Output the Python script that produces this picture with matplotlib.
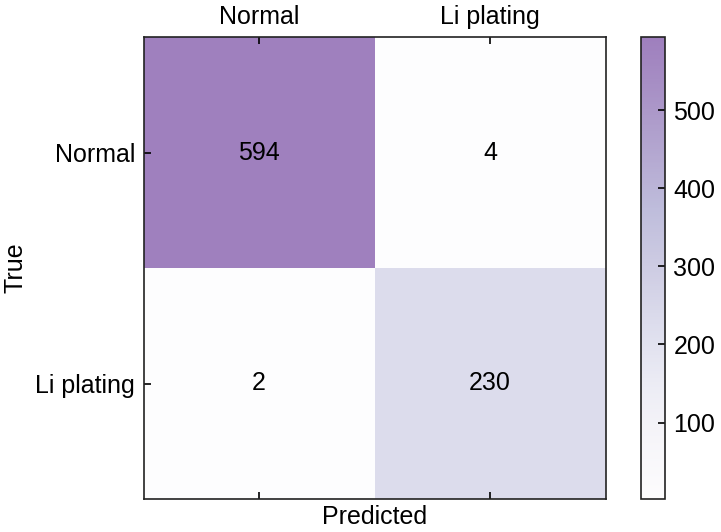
import numpy as np
import matplotlib
matplotlib.use("Agg")
import matplotlib.pyplot as plt

plt.rcParams['font.family'] = ['Liberation Sans', 'DejaVu Sans']
plt.rcParams['font.size'] = 18

classes = ["Normal", "Li plating"]
cm = np.array([[594, 4],
               [2, 230]])

W, H = 721, 532
fig = plt.figure(figsize=(W/100, H/100), dpi=100)
ax = fig.add_axes([143.5/W, (H-499)/H, 462/W, 462/H])
cax = fig.add_axes([641/W, (H-499)/H, 24/W, 462/H])

im = ax.imshow(cm, cmap='Purples', alpha=0.5, aspect='auto',
               vmin=cm.min(), vmax=cm.max())
for i in range(cm.shape[0]):
    for j in range(cm.shape[1]):
        ax.text(j, i, str(cm[i, j]), ha='center', va='center', color='black', fontsize=18)

ax.set_xticks(range(len(classes)))
ax.set_yticks(range(len(classes)))
ax.set_xticklabels(classes)
ax.set_yticklabels(classes)
ax.xaxis.tick_top()
ax.tick_params(axis='both', which='both', direction='in', length=5, width=1.2,
               top=True, bottom=True, left=True, right=False,
               labeltop=True, labelbottom=False, labelsize=18, pad=6)
ax.set_xlabel("Predicted", fontsize=18)
ax.xaxis.set_label_position('bottom')
ax.xaxis.set_label_coords(0.5, -0.014)
ax.xaxis.label.set_va('top')
ax.set_ylabel("True", fontsize=18)
ax.yaxis.set_label_coords((27-143.5)/462, 0.5)
for s in ax.spines.values():
    s.set_linewidth(1.2)
    s.set_color('#222222')

cb = fig.colorbar(im, cax=cax)
cb.set_ticks([100, 200, 300, 400, 500])
cb.ax.tick_params(direction='in', length=5, width=1.2, labelsize=18, pad=6)
cb.outline.set_linewidth(1.2)
cb.outline.set_edgecolor('#222222')

fig.savefig("out.png", dpi=100)
